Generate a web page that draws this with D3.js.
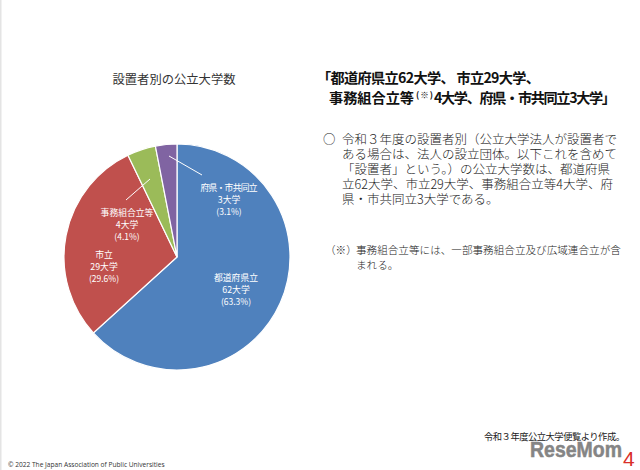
<!DOCTYPE html>
<html>
<head>
<meta charset="utf-8">
<script src="https://cdn.jsdelivr.net/npm/d3@7/dist/d3.min.js"></script>
<style>
  html, body { margin: 0; padding: 0; background: #fff; }
  svg { display: block; }
  text { font-family: "Noto Sans CJK JP", "Noto Sans", sans-serif; }
</style>
</head>
<body>
<svg id="chart" width="640" height="470"></svg>
<script>
const categories = ["都道府県立", "市立", "事務組合立等", "府県・市共同立"];
const counts = [62, 29, 4, 3];
const countLabels = ["62大学", "29大学", "4大学", "3大学"];
const shareLabels = ["(63.3%)", "(29.6%)", "(4.1%)", "(3.1%)"];
const colors = ["#4f81bd", "#c0504d", "#9bbb59", "#8064a2"];

// pixel offsets from the pie centre
const labelOffsets = [[59, 24], [-73, 0.5], [-50, -41.5], [52, -66.5]];
const leaders = [null, null, [[-27, -78], [-51, -57]], [[-8, -101], [25, -82]]];

const bodyLines = [
  "令和３年度の設置者別（公立大学法人が設置者で",
  "ある場合は、法人の設立団体。以下これを含めて",
  "「設置者」という。）の公立大学数は、都道府県",
  "立62大学、市立29大学、事務組合立等4大学、府",
  "県・市共同立3大学である。"
];
const noteLines = ["事務組合立等には、一部事務組合立及び広域連合立が含", "まれる。"];

const svg = d3.select("#chart");
const cx = 177, cy = 257, radius = 113;

svg.append("rect").attr("x", 0).attr("y", 0).attr("width", 1.5).attr("height", 470).attr("fill", "#e4e4e4");

const pie = d3.pie().sort(null)(counts);
const arc = d3.arc().innerRadius(0).outerRadius(radius);
const g = svg.append("g").attr("transform", `translate(${cx},${cy})`);

g.selectAll("path")
  .data(pie)
  .join("path")
  .attr("d", arc)
  .attr("fill", (d, i) => colors[i])
  .attr("stroke", "#fff")
  .attr("stroke-width", 1.2);

g.selectAll("line")
  .data(leaders.filter(d => d))
  .join("line")
  .attr("x1", d => d[0][0]).attr("y1", d => d[0][1])
  .attr("x2", d => d[1][0]).attr("y2", d => d[1][1])
  .attr("stroke", "#fff")
  .attr("stroke-width", 1);

const labels = g.selectAll("g.label")
  .data(categories)
  .join("g")
  .attr("class", "label")
  .attr("transform", (d, i) => `translate(${labelOffsets[i]})`)
  .attr("fill", "#fff")
  .attr("font-size", 8.8)
  .attr("text-anchor", "middle");
labels.append("text")
  .attr("textLength", d => d.includes("・") ? 57 : null)
  .text(d => d);
labels.append("text").attr("y", 12).text((d, i) => countLabels[i]);
labels.append("text").attr("y", 24).attr("font-size", 8.5).text((d, i) => shareLabels[i]);

svg.append("text")
  .attr("x", 174).attr("y", 84)
  .attr("text-anchor", "middle")
  .attr("font-size", 12.3)
  .attr("fill", "#333")
  .text("設置者別の公立大学数");

const heading = svg.append("g").attr("font-weight", 700).attr("fill", "#111").attr("font-size", 14.2);
heading.append("text").attr("x", 317).attr("y", 83).attr("textLength", 223)
  .text("「都道府県立62大学、 市立29大学、");
heading.append("text").attr("x", 329).attr("y", 103).attr("textLength", 85).text("事務組合立等");
heading.append("text").attr("x", 416).attr("y", 98).attr("font-size", 8.5).attr("textLength", 17).text("(※)");
heading.append("text").attr("x", 434).attr("y", 103).attr("textLength", 182).text("4大学、府県・市共同立3大学」");

svg.append("text").attr("x", 323).attr("y", 144).attr("font-size", 12.4).attr("fill", "#222").text("○");

svg.selectAll("text.body")
  .data(bodyLines)
  .join("text")
  .attr("class", "body")
  .attr("x", 342)
  .attr("y", (d, i) => 144 + i * 14.9)
  .attr("font-size", 12.5)
  .attr("font-weight", 300)
  .attr("fill", "#222")
  .text(d => d);

svg.append("text").attr("x", 325).attr("y", 254).attr("font-size", 10.6).attr("fill", "#222").attr("font-weight", 300).text("（※）");
svg.selectAll("text.note")
  .data(noteLines)
  .join("text")
  .attr("class", "note")
  .attr("x", 356)
  .attr("y", (d, i) => 254 + i * 14.5)
  .attr("font-size", 10.6)
  .attr("font-weight", 300)
  .attr("fill", "#222")
  .text(d => d);

svg.append("text")
  .attr("x", 484).attr("y", 440)
  .attr("textLength", 141)
  .attr("font-size", 9.3)
  .attr("fill", "#222")
  .text("令和３年度公立大学便覧より作成。");

svg.append("text")
  .attr("x", 8).attr("y", 467)
  .attr("font-size", 6.6)
  .attr("fill", "#333")
  .style("font-family", "'Open Sans', sans-serif")
  .text("©  2022  The Japan Association of Public Universities");

svg.append("text")
  .attr("x", 530).attr("y", 456.5)
  .attr("textLength", 92)
  .attr("lengthAdjust", "spacingAndGlyphs")
  .attr("font-size", 22)
  .attr("font-weight", 700)
  .attr("fill", "#858585")
  .attr("stroke", "#858585")
  .attr("stroke-width", 0.5)
  .style("font-family", "'Liberation Sans', sans-serif")
  .text("ReseMom");

svg.append("text")
  .attr("x", 623).attr("y", 466)
  .attr("font-size", 21)
  .attr("fill", "#d9302a")
  .style("font-family", "'Liberation Sans', sans-serif")
  .text("4");
</script>
</body>
</html>
